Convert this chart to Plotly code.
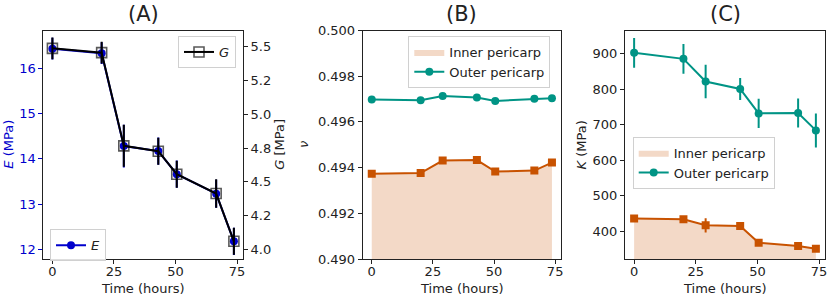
import plotly.graph_objects as go

# ---------------- data ----------------
time_h = [0, 20, 29, 43, 50.5, 66.5, 73.7]

E_mpa = [16.43, 16.33, 14.28, 14.17, 13.66, 13.23, 12.18]
E_err = [0.24, 0.24, 0.47, 0.30, 0.30, 0.31, 0.30]
G_mpa = [5.488, 5.456, 4.767, 4.727, 4.557, 4.414, 4.061]
G_err = [0.08, 0.08, 0.155, 0.10, 0.10, 0.105, 0.10]

nu_inner = [0.49373, 0.49376, 0.49431, 0.49433, 0.49383, 0.49387, 0.49422]
nu_inner_err = [0.00004, 0.00004, 0.00005, 0.00004, 0.00004, 0.00004, 0.00004]
nu_outer = [0.49698, 0.49695, 0.49713, 0.49707, 0.49692, 0.49701, 0.49704]
nu_outer_err = [0.00003, 0.00003, 0.00003, 0.00003, 0.00003, 0.00003, 0.00003]

K_inner = [435, 433, 416, 414, 367, 358, 350]
K_inner_err = [6, 5, 20, 6, 5, 5, 5]
K_outer = [903, 886, 822, 801, 732, 733, 684]
K_outer_err = [42, 42, 47, 31, 41, 41, 48]

x_ticks = [0, 25, 50, 75]
E_ticks = [12, 13, 14, 15, 16]
G_ticks = [4.0, 4.25, 4.5, 4.75, 5.0, 5.25, 5.5]
G_ticktext = ["4.0", "4.2", "4.5", "4.8", "5.0", "5.2", "5.5"]
nu_ticks = [0.490, 0.492, 0.494, 0.496, 0.498, 0.500]
K_ticks = [400, 500, 600, 700, 800, 900]

# ---------------- styles ----------------
FONT = "DejaVu Sans"
BLUE = "#0000cc"
TEAL = "#009485"
ORANGE = "#c85200"
FILL = "rgba(200,82,0,0.22)"
W, H = 830, 299

def px(xp):
    return xp / W

def py(yp):
    return 1 - yp / H

y_dom = [py(259), py(30.5)]
dA = [px(43.3), px(243)]
dB = [px(362.7), px(561)]
dC = [px(625), px(825)]

fig = go.Figure()

# Panel A
fig.add_trace(go.Scatter(
    x=time_h, y=E_mpa, name="<i>E</i>", mode="lines+markers",
    line=dict(color=BLUE, width=2), marker=dict(color=BLUE, size=8, symbol="circle"),
    error_y=dict(type="data", array=E_err, color=BLUE, thickness=2, width=0),
    xaxis="x", yaxis="y", legend="legend2"))
fig.add_trace(go.Scatter(
    x=time_h, y=G_mpa, name="<i>G</i>", mode="lines+markers",
    line=dict(color="black", width=2),
    marker=dict(color="rgba(0,0,0,0.65)", size=10, symbol="square-open", line=dict(width=1.6)),
    error_y=dict(type="data", array=G_err, color="black", thickness=2, width=0),
    xaxis="x", yaxis="y2", legend="legend"))

# Panel B
fig.add_trace(go.Scatter(
    x=time_h, y=nu_inner, name="Inner pericarp", mode="lines", fill="tozeroy",
    fillcolor=FILL, line=dict(width=0, color=FILL),
    xaxis="x2", yaxis="y3", legend="legend3"))
fig.add_trace(go.Scatter(
    x=time_h, y=nu_inner, name="inner", mode="lines+markers", showlegend=False,
    line=dict(color=ORANGE, width=2), marker=dict(color=ORANGE, size=8, symbol="square"),
    error_y=dict(type="data", array=nu_inner_err, color=ORANGE, thickness=2, width=0),
    xaxis="x2", yaxis="y3"))
fig.add_trace(go.Scatter(
    x=time_h, y=nu_outer, name="Outer pericarp", mode="lines+markers",
    line=dict(color=TEAL, width=2), marker=dict(color=TEAL, size=8, symbol="circle"),
    error_y=dict(type="data", array=nu_outer_err, color=TEAL, thickness=2, width=0),
    xaxis="x2", yaxis="y3", legend="legend3"))

# Panel C
fig.add_trace(go.Scatter(
    x=time_h, y=K_inner, name="Inner pericarp", mode="lines", fill="tozeroy",
    fillcolor=FILL, line=dict(width=0, color=FILL),
    xaxis="x3", yaxis="y4", legend="legend4"))
fig.add_trace(go.Scatter(
    x=time_h, y=K_inner, name="inner", mode="lines+markers", showlegend=False,
    line=dict(color=ORANGE, width=2), marker=dict(color=ORANGE, size=8, symbol="square"),
    error_y=dict(type="data", array=K_inner_err, color=ORANGE, thickness=2, width=0),
    xaxis="x3", yaxis="y4"))
fig.add_trace(go.Scatter(
    x=time_h, y=K_outer, name="Outer pericarp", mode="lines+markers",
    line=dict(color=TEAL, width=2), marker=dict(color=TEAL, size=8, symbol="circle"),
    error_y=dict(type="data", array=K_outer_err, color=TEAL, thickness=2, width=0),
    xaxis="x3", yaxis="y4", legend="legend4"))

axis_common = dict(showgrid=False, zeroline=False, showline=True, linecolor="#222",
                   linewidth=1, ticks="outside", ticklen=4, tickcolor="#222",
                   automargin=False,
                   tickfont=dict(family=FONT, size=13, color="#222"))
xr = [-3.7, 77.4]

def xax(dom, anchor):
    return dict(axis_common, domain=dom, anchor=anchor, range=xr, tickvals=x_ticks,
                mirror=True, ticklabelstandoff=-4)

leg_common = dict(bgcolor="rgba(255,255,255,0.85)", bordercolor="#d0d0d0", borderwidth=1,
                  font=dict(family=FONT, size=13, color="#222"), xanchor="left",
                  yanchor="top", tracegroupgap=0)

fig.update_layout(
    template="none", hovermode=False,
    width=W, height=H, margin=dict(l=0, r=0, t=0, b=0, pad=0, autoexpand=False),
    paper_bgcolor="white", plot_bgcolor="white",
    font=dict(family=FONT, size=13, color="#222"),
    xaxis=xax(dA, "y"),
    yaxis=dict(axis_common, domain=y_dom, anchor="x", range=[11.79, 16.83],
               tickvals=E_ticks, tickcolor=BLUE,
               tickfont=dict(family=FONT, size=13, color=BLUE)),
    yaxis2=dict(axis_common, domain=y_dom, anchor="x", overlaying="y", side="right",
                range=[3.93, 5.62], tickvals=G_ticks, ticktext=G_ticktext),
    xaxis2=xax(dB, "y3"),
    yaxis3=dict(axis_common, domain=y_dom, anchor="x2", range=[0.490, 0.500],
                tickvals=nu_ticks, tickformat=".3f", mirror=True),
    xaxis3=xax(dC, "y4"),
    yaxis4=dict(axis_common, domain=y_dom, anchor="x3", range=[321, 966],
                tickvals=K_ticks, mirror=True),
    legend=dict(leg_common, x=px(178), y=py(36)),
    legend2=dict(leg_common, x=px(50), y=py(229.3)),
    legend3=dict(leg_common, x=px(408.3), y=py(36)),
    legend4=dict(leg_common, x=px(632.7), y=py(136.7)),
)

ann = []
for label, dom in (("(A)", dA), ("(B)", dB), ("(C)", dC)):
    ann.append(dict(text=label, x=(dom[0] + dom[1]) / 2, y=1.0, xref="paper", yref="paper",
                    showarrow=False, xanchor="center", yanchor="top",
                    font=dict(family=FONT, size=21, color="#222")))
    ann.append(dict(text="Time (hours)", x=(dom[0] + dom[1]) / 2, y=py(288), xref="paper",
                    yref="paper", showarrow=False, xanchor="center", yanchor="middle",
                    font=dict(family=FONT, size=13, color="#222")))
for label, xp, col in (("<i>E</i> (MPa)", 9, BLUE), ("<i>G</i> [MPa]", 280, "#222"),
                       ("<i>ν</i>", 303.3, "#222"), ("<i>K</i> (MPa)", 581.7, "#222")):
    ann.append(dict(text=label, x=px(xp), y=py(144.7), xref="paper", yref="paper",
                    showarrow=False, xanchor="center", yanchor="middle", textangle=-90,
                    font=dict(family=FONT, size=13, color=col)))
fig.update_layout(annotations=ann)

fig.write_html("out.html",
               config={"displayModeBar": False},
               post_script="document.body.style.margin='0';document.body.style.padding='0';")
